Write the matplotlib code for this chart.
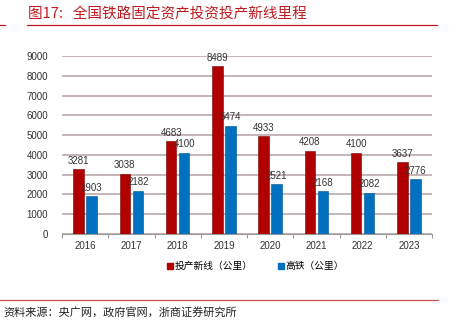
import matplotlib
matplotlib.use("Agg")
import matplotlib.pyplot as plt
import numpy as np
from matplotlib.lines import Line2D

plt.rcParams['font.family'] = ['Liberation Sans', 'Noto Sans CJK SC', 'DejaVu Sans']

years = ['2016', '2017', '2018', '2019', '2020', '2021', '2022', '2023']
new_lines = [3281, 3038, 4683, 8489, 4933, 4208, 4100, 3637]
high_speed = [1903, 2182, 4100, 5474, 2521, 2168, 2082, 2776]
series_names = ['投产新线（公里）', '高铁（公里）']
title = '图17:   全国铁路固定资产投资投产新线里程'
source = '资料来源：央广网，政府官网，浙商证券研究所'

RED = '#b00000'
BLUE = '#0070c0'
TITLE_RED = '#c0191f'

W, H = 458, 332
fig = plt.figure(figsize=(W / 100, H / 100), dpi=100)

ax = fig.add_axes([62 / W, 1 - 234 / H, (432 - 62) / W, (234 - 56) / H])
x = np.arange(len(years))
bw = 0.23
off = 0.14
ax.bar(x - off, new_lines, bw, color=RED, edgecolor='#7a0000', linewidth=0.4, zorder=3)
ax.bar(x + off, high_speed, bw, color=BLUE, edgecolor='#004f8a', linewidth=0.4, zorder=3)

for xi, v in zip(x - off, new_lines):
    ax.text(xi, v + 180, str(v), ha='center', va='bottom', fontsize=7, color='#333333', zorder=4)
for xi, v in zip(x + off, high_speed):
    ax.text(xi, v + 180, str(v), ha='center', va='bottom', fontsize=7, color='#333333', zorder=4)

ax.set_xlim(-0.5, len(years) - 0.5)
ax.set_ylim(0, 9000)
ax.set_yticks(np.arange(0, 9001, 1000))
ax.set_yticklabels([str(v) for v in range(0, 9001, 1000)], fontsize=7, color='#333333')
ax.set_xticks(x)
ax.set_xticklabels(years, fontsize=7, color='#333333')
ax.set_xticks(np.arange(-0.5, len(years), 1), minor=True)
ax.tick_params(axis='x', which='major', length=0, pad=5)
ax.tick_params(axis='x', which='minor', length=3, color='#999999', width=0.8)
ax.tick_params(axis='y', length=0, pad=10)
ax.grid(axis='y', color='#c4b6b6', linewidth=1.4, zorder=0)
for s in ['top', 'right', 'left']:
    ax.spines[s].set_visible(False)
ax.spines['bottom'].set_color('#999999')
ax.spines['bottom'].set_linewidth(0.8)
ax.set_axisbelow(True)

handles = [Line2D([], [], marker='s', linestyle='none', markersize=4, color=RED),
           Line2D([], [], marker='s', linestyle='none', markersize=4, color=BLUE)]
fig.legend(handles, series_names, loc='center', bbox_to_anchor=(255 / W, 1 - 266 / H),
           ncol=2, frameon=False, handletextpad=0.1, columnspacing=2.5,
           handlelength=0.8, prop={'family': ['Noto Sans CJK SC'], 'size': 7})

fig.text(28 / W, 1 - 14 / H, title, fontsize=10.5, color=TITLE_RED, va='center', ha='left',
         family=['Noto Sans CJK SC'])
fig.add_artist(Line2D([27 / W, 437 / W], [1 - 24.5 / H] * 2, color=TITLE_RED, linewidth=0.9))
fig.add_artist(Line2D([0, 5 / W], [1 - 24.5 / H] * 2, color=TITLE_RED, linewidth=0.9))
fig.add_artist(Line2D([0, 438 / W], [1 - 300 / H] * 2, color='#c85050', linewidth=0.9))
fig.text(3 / W, 1 - 313 / H, source, fontsize=8, color='#222222', va='center', ha='left',
         family=['Noto Sans CJK SC'])

fig.savefig('out.png', dpi=100)
